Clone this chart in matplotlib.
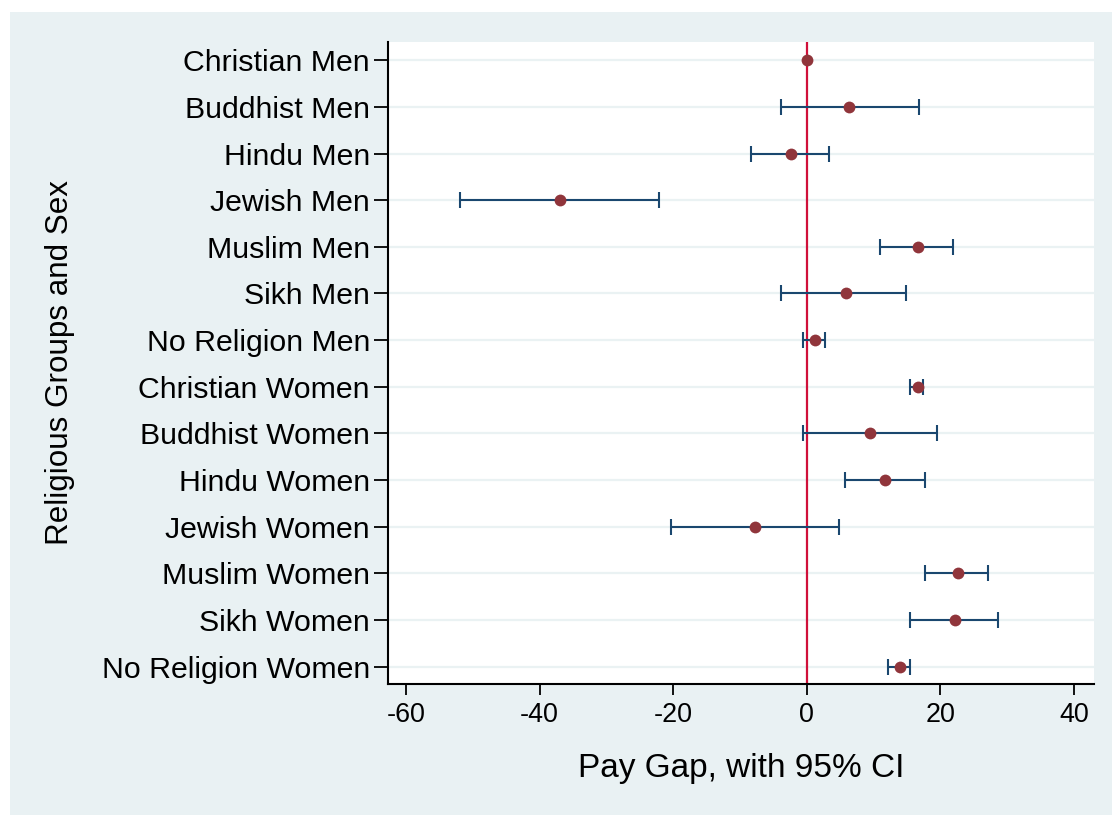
import numpy as np
import matplotlib
matplotlib.use("Agg")
import matplotlib.pyplot as plt
from matplotlib.patches import Rectangle

# Estimated pay gap (%) with 95% confidence intervals
groups = [
    "Christian Men", "Buddhist Men", "Hindu Men", "Jewish Men", "Muslim Men",
    "Sikh Men", "No Religion Men", "Christian Women", "Buddhist Women",
    "Hindu Women", "Jewish Women", "Muslim Women", "Sikh Women",
    "No Religion Women",
]
estimate = [0.0, 6.3, -2.4, -36.9, 16.6, 5.8, 1.2, 16.6, 9.4, 11.7, -7.7, 22.6, 22.2, 14.0]
ci_low = [0.0, -3.9, -8.4, -51.9, 11.0, -3.9, -0.6, 15.5, -0.6, 5.7, -20.3, 17.7, 15.5, 12.2]
ci_high = [0.0, 16.8, 3.3, -22.1, 21.9, 14.9, 2.7, 17.4, 19.5, 17.7, 4.8, 27.2, 28.7, 15.5]
x_ticks = [-60, -40, -20, 0, 20, 40]

W, H = 1112, 815
fig = plt.figure(figsize=(W / 100, H / 100), dpi=100)
fig.patch.set_facecolor("white")
bg = Rectangle((10 / W, 0), 1 - 10 / W, 1 - 12 / H,
               transform=fig.transFigure, facecolor="#E9F1F3",
               edgecolor="none", zorder=-10)
fig.add_artist(bg)

ax = fig.add_axes([388 / W, 1 - 683.5 / H, (1094 - 388) / W, (683.5 - 42) / H])
ax.set_zorder(1)
ax.set_facecolor("white")

y = np.arange(len(groups))
est = np.array(estimate)
lo = np.array(ci_low)
hi = np.array(ci_high)

# horizontal grid at each group
for yi in y:
    ax.axhline(yi, color="#EAF2F3", lw=1.6, zorder=1)

# reference line at zero
ax.axvline(0, color="#D0103A", lw=1.6, zorder=2)

# confidence intervals (skip the reference category)
has_ci = hi > lo
ax.errorbar(est[has_ci], y[has_ci],
            xerr=[est[has_ci] - lo[has_ci], hi[has_ci] - est[has_ci]],
            fmt="none", ecolor="#1A476F", elinewidth=1.5, capsize=6,
            capthick=1.5, zorder=3)
ax.plot(est, y, "o", color="#90353B", markersize=8.5, markeredgewidth=0,
        zorder=4)

ax.set_xlim(-62.7, 43.0)
ax.set_ylim(len(groups) - 1 + 0.36, -0.39)
ax.set_yticks(y)
ax.set_yticklabels(groups)
ax.set_xticks(x_ticks)
ax.set_xticklabels([str(t) for t in x_ticks])

for side in ("top", "right"):
    ax.spines[side].set_visible(False)
for side in ("left", "bottom"):
    ax.spines[side].set_linewidth(1.5)
    ax.spines[side].set_color("black")

ax.tick_params(axis="y", length=10, width=1.3, pad=3, labelsize=21.8,
               colors="black")
ax.tick_params(axis="x", length=8, width=1.3, pad=5, labelsize=19.4,
               colors="black")
for lab in ax.get_xticklabels() + ax.get_yticklabels():
    lab.set_fontfamily("Liberation Sans")

ax.set_xlabel("Pay Gap, with 95% CI", fontsize=24, fontfamily="Liberation Sans")
ax.xaxis.label.set_va("center")
ax.xaxis.set_label_coords(0.5, -0.132)
ax.set_ylabel("Religious Groups and Sex", fontsize=22.6,
              fontfamily="Liberation Sans")
ax.yaxis.label.set_va("center")
ax.yaxis.set_label_coords(-0.4646, 0.5)

fig.savefig("out.png", dpi=100)
